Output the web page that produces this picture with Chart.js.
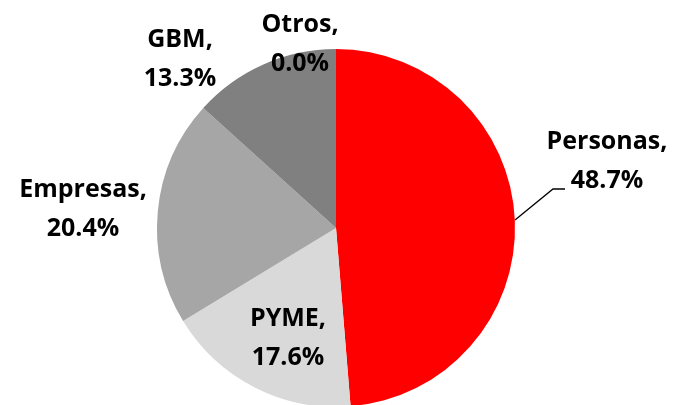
<!DOCTYPE html>
<html>
<head>
<meta charset="utf-8">
<script src="https://cdn.jsdelivr.net/npm/chart.js@4.4.0/dist/chart.umd.min.js"></script>
<style>
  html, body { margin: 0; padding: 0; background: #fff; overflow: hidden; }
  #wrap { width: 676px; height: 407px; position: relative; }
</style>
</head>
<body>
<div id="wrap"><canvas id="graficaSegmentos"></canvas></div>
<script>
// Datos del gráfico
const segmentos = ['Personas', 'PYME', 'Empresas', 'GBM', 'Otros'];
const participacion = [48.7, 17.6, 20.4, 13.3, 0.0];
const colores = ['#FF0000', '#D9D9D9', '#A6A6A6', '#808080', '#595959'];

// Posición de cada etiqueta respecto al centro del pastel (px)
const posEtiquetas = [
    { dx: 271, dy: -79 },
    { dx: -48, dy: 98 },
    { dx: -253, dy: -31 },
    { dx: -156, dy: -181 },
    { dx: -36, dy: -196 }
];

// Dibuja las etiquetas "Nombre,\nxx.x%" y la línea guía de Personas
const etiquetasPlugin = {
    id: 'etiquetas',
    afterDatasetsDraw(chart) {
        const ctx = chart.ctx;
        const arc = chart.getDatasetMeta(0).data[0];
        const cx = arc.x, cy = arc.y, r = arc.outerRadius;

        ctx.save();
        // linea guia
        ctx.strokeStyle = '#000';
        ctx.lineWidth = 1.3;
        ctx.beginPath();
        ctx.moveTo(cx + r, cy - 8);
        ctx.lineTo(cx + 217, cy - 39);
        ctx.lineTo(cx + 229, cy - 39);
        ctx.stroke();

        ctx.fillStyle = '#000';
        ctx.font = 'bold 25px "Open Sans"';
        ctx.textAlign = 'center';
        ctx.textBaseline = 'alphabetic';
        segmentos.forEach((s, i) => {
            const p = posEtiquetas[i];
            const lineas = [s + ',', participacion[i].toFixed(1) + '%'];
            lineas.forEach((t, k) => {
                ctx.save();
                ctx.translate(cx + p.dx, cy + p.dy + k * 39);
                ctx.scale(1.0, 1);
                ctx.fillText(t, 0, 0);
                ctx.restore();
            });
        });
        ctx.restore();
    }
};

new Chart(document.getElementById('graficaSegmentos').getContext('2d'), {
    type: 'pie',
    data: {
        labels: segmentos,
        datasets: [{
            data: participacion,
            backgroundColor: colores,
            borderWidth: 0
        }]
    },
    options: {
        responsive: true,
        maintainAspectRatio: false,
        animation: false,
        layout: { padding: { top: 49, bottom: 0, left: 0, right: 4 } },
        plugins: { legend: { display: false }, tooltip: { enabled: false } }
    },
    plugins: [etiquetasPlugin]
});
</script>
</body>
</html>
